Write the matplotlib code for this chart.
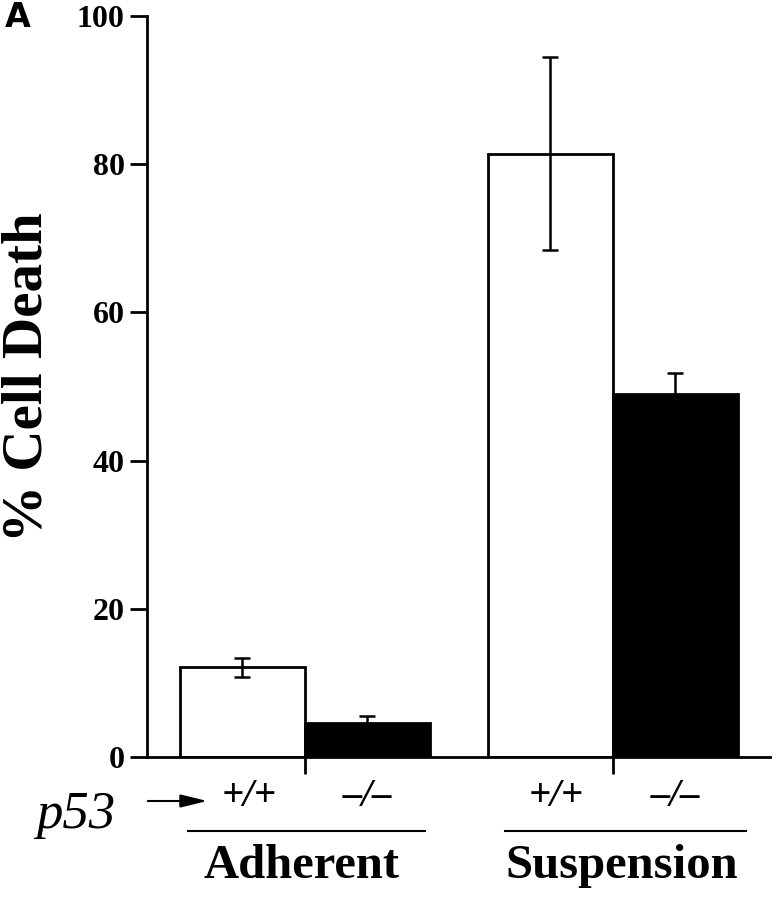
import matplotlib
matplotlib.use("Agg")
import matplotlib.pyplot as plt
from matplotlib.patches import FancyArrowPatch
from matplotlib.transforms import blended_transform_factory

# data
groups = ["Adherent", "Suspension"]
genotypes = ["+/+", "\u2013/\u2013"]
wt_death = [12.1, 81.4]
wt_err = [1.3, 13.0]
ko_death = [4.6, 49.0]
ko_err = [0.9, 2.8]

plt.rcParams['font.family'] = ['Liberation Serif', 'DejaVu Serif']

fig = plt.figure(figsize=(7.79, 8.99), dpi=100)
ax = fig.add_axes([147/779, 1 - 757/899, (770 - 147)/779, (757 - 16)/899])

w = 0.406
xc = [0, 1]
x_wt = [x - w/2 for x in xc]
x_ko = [x + w/2 for x in xc]

ax.bar(x_wt, wt_death, width=w, color='white', edgecolor='black', linewidth=2, zorder=2)
ax.bar(x_ko, ko_death, width=w, color='black', edgecolor='black', linewidth=2, zorder=2)
ax.errorbar(x_wt, wt_death, yerr=wt_err, fmt='none', ecolor='black', elinewidth=1.8,
            capsize=5.8, capthick=1.8, zorder=3)
ax.errorbar(x_ko, ko_death, yerr=ko_err, fmt='none', ecolor='black', elinewidth=1.8,
            capsize=5.8, capthick=1.8, zorder=3)

ax.set_xlim(-0.513, 1.51)
ax.set_ylim(0, 100)
ax.set_yticks([0, 20, 40, 60, 80, 100])
ax.set_xticks(xc)
ax.set_xticklabels([])
for s in ['top', 'right']:
    ax.spines[s].set_visible(False)
for s in ['left', 'bottom']:
    ax.spines[s].set_linewidth(2)
ax.tick_params(axis='both', direction='out', length=12, width=2, pad=4)
for lab in ax.get_yticklabels():
    lab.set_fontsize(23)
    lab.set_fontweight('bold')

# y label placed directly on the figure
fig.text(28/779, 1 - 377/899, "% Cell Death", rotation=90, ha='center', va='center',
         fontsize=41, fontweight='bold')

# labels under the axis
tr = blended_transform_factory(ax.transData, fig.transFigure)
for i in range(2):
    ax.text(x_wt[i] + 0.02, 1 - 797/899, genotypes[0], transform=tr, ha='center', va='center',
            fontsize=28, fontstyle='italic', fontweight='bold')
    ax.text(x_ko[i], 1 - 797/899, genotypes[1], transform=tr, ha='center', va='center',
            fontsize=28, fontstyle='italic', fontweight='bold')

line_spans = [(-0.38, 0.39), (0.649, 1.432)]
label_x = [-0.01, 1.03]
for i, g in enumerate(groups):
    ax.plot(line_spans[i], [1 - 831/899] * 2, transform=tr, color='black', lw=1.5, clip_on=False)
    ax.text(label_x[i], 1 - 866/899, g, transform=tr, ha='center', va='center',
            fontsize=35, fontweight='bold')

fig.text(76/779, 1 - 815/899, "p53", ha='center', va='center', fontsize=38,
         fontstyle='italic')
fig.add_artist(FancyArrowPatch(
    (145/779, 1 - 801/899), (210/779, 1 - 801/899), transform=fig.transFigure,
    arrowstyle='-|>,head_length=0.9,head_width=0.22', mutation_scale=18,
    color='black', lw=1.5))

fig.text(5/779, 1 - 27/899, "A", ha='left', va='baseline', fontsize=24,
         fontweight='bold', family='DejaVu Sans')

fig.savefig("out.png", dpi=100)
